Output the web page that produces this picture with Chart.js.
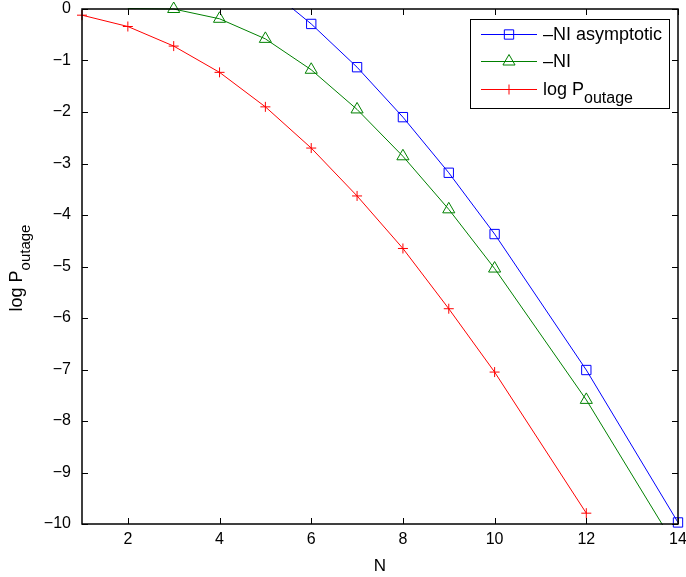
<!DOCTYPE html>
<html>
<head>
<meta charset="utf-8">
<script src="https://cdn.jsdelivr.net/npm/chart.js@4.4.0/dist/chart.umd.min.js"></script>
<style>
  html, body { margin: 0; padding: 0; background: #fff; }
  #wrap { width: 686px; height: 577px; }
</style>
</head>
<body>
<div id="wrap"><canvas id="chart"></canvas></div>
<script>
// values
const N_ASYMP = [5, 6, 7, 8, 9, 10, 12, 14]
const NI_ASYMP = [0.44, -0.29, -1.13, -2.10, -3.18, -4.37, -7.01, -9.97]
const N_NI = [2, 3, 4, 5, 6, 7, 8, 9, 10, 12, 14]
const NI = [0.01, 0, -0.19, -0.58, -1.18, -1.95, -2.86, -3.89, -5.04, -7.59, -10.51]
const N_OUTAGE = [1, 2, 3, 4, 5, 6, 7, 8, 9, 10, 12]
const LOG_P_OUTAGE = [-0.12, -0.34, -0.72, -1.23, -1.90, -2.70, -3.63, -4.65, -5.82, -7.05, -9.79]

const X_TICKS = [2, 4, 6, 8, 10, 12, 14]
const Y_TICKS = [0, -1, -2, -3, -4, -5, -6, -7, -8, -9, -10]
const SERIES_LABELS = ['\u2013NI asymptotic', '\u2013NI', 'log P']
const SERIES_SUBSCRIPTS = ['', '', 'outage']
const X_TITLE = 'N'
const Y_TITLE = 'log P'
const Y_TITLE_SUB = 'outage'

const FONT = "'Liberation Sans', Arial, Helvetica, sans-serif"
const minus = v => (v < 0 ? '\u2212' + Math.abs(v) : String(v))
const pts = (xs, ys) => xs.map((x, i) => ({ x: x, y: ys[i] }))
// markers outside the axes (above 0) are not drawn, like matlab
const radiusFor = r => ctx => (ctx.raw && ctx.raw.y > 0.001 ? 0 : r)

function drawMarker(ctx, style, x, y, r, color) {
    ctx.save()
    ctx.strokeStyle = color
    ctx.lineWidth = 1
    ctx.beginPath()
    if (style === 'rect') {
        const s = r * Math.SQRT1_2
        ctx.rect(x - s, y - s, 2 * s, 2 * s)
    } else if (style === 'triangle') {
        ctx.moveTo(x, y - r)
        ctx.lineTo(x + r * 0.866, y + r * 0.5)
        ctx.lineTo(x - r * 0.866, y + r * 0.5)
        ctx.closePath()
    } else {
        ctx.moveTo(x - r, y); ctx.lineTo(x + r, y)
        ctx.moveTo(x, y - r); ctx.lineTo(x, y + r)
    }
    ctx.stroke()
    ctx.restore()
}

function textWithSub(ctx, main, sub, x, y, size, subSize, drop) {
    ctx.font = size + 'px ' + FONT
    ctx.fillText(main, x, y)
    if (!sub) return
    const w = ctx.measureText(main).width
    ctx.font = subSize + 'px ' + FONT
    ctx.fillText(sub, x + w, y + drop)
}

const axesFrame = {
    id: 'axesFrame',
    afterDraw(chart) {
        const { ctx, chartArea: a, scales } = chart
        const xs = scales.x, ys = scales.y
        ctx.save()
        ctx.strokeStyle = '#000'

        // inward ticks on all four sides
        ctx.lineWidth = 1
        ctx.beginPath()
        X_TICKS.forEach(v => {
            const px = Math.round(xs.getPixelForValue(v)) + 0.5
            ctx.moveTo(px, a.bottom); ctx.lineTo(px, a.bottom - 6)
            ctx.moveTo(px, a.top); ctx.lineTo(px, a.top + 6)
        })
        Y_TICKS.forEach(v => {
            const py = Math.round(ys.getPixelForValue(v)) + 0.5
            ctx.moveTo(a.left, py); ctx.lineTo(a.left + 6, py)
            ctx.moveTo(a.right, py); ctx.lineTo(a.right - 6, py)
        })
        ctx.stroke()

        ctx.lineWidth = 1.5
        ctx.strokeRect(a.left, a.top, a.right - a.left, a.bottom - a.top)

        // axis titles
        ctx.fillStyle = '#000'
        ctx.textBaseline = 'alphabetic'
        ctx.textAlign = 'left'
        ctx.font = '17px ' + FONT
        const nW = ctx.measureText(X_TITLE).width
        ctx.fillText(X_TITLE, (a.left + a.right) / 2 - nW / 2, 571)

        ctx.save()
        ctx.font = '18px ' + FONT
        const mW = ctx.measureText(Y_TITLE).width
        ctx.font = '15px ' + FONT
        const sW = ctx.measureText(Y_TITLE_SUB).width
        ctx.translate(22, 268)
        ctx.rotate(-Math.PI / 2)
        textWithSub(ctx, Y_TITLE, Y_TITLE_SUB, -(mW + sW) / 2, 0, 18, 15, 8)
        ctx.restore()

        // legend box
        const lx = 470, ly = 19, lw = 199, lh = 89
        ctx.fillStyle = '#fff'
        ctx.fillRect(lx, ly, lw, lh)
        ctx.lineWidth = 1
        ctx.strokeRect(lx + 0.5, ly + 0.5, lw, lh)
        const rows = [34, 61, 89]
        chart.data.datasets.forEach((ds, i) => {
            const yy = rows[i] + 0.5
            ctx.strokeStyle = ds.borderColor
            ctx.lineWidth = 1
            ctx.beginPath()
            ctx.moveTo(481, yy); ctx.lineTo(537, yy)
            ctx.stroke()
            drawMarker(ctx, ds.pointStyle, 509, yy, ds.legendRadius, ds.borderColor)
            ctx.fillStyle = '#000'
            textWithSub(ctx, SERIES_LABELS[i], SERIES_SUBSCRIPTS[i], 543, rows[i] + 6, 18, 16, 8)
        })
        ctx.restore()
    }
}

const ctx = document.getElementById('chart').getContext('2d')
new Chart(ctx, {
    type: 'line',
    data: {
        datasets: [
            {
                label: SERIES_LABELS[0],
                data: pts(N_ASYMP, NI_ASYMP),
                borderColor: '#0000ff',
                pointStyle: 'rect',
                radius: radiusFor(6.6),
                legendRadius: 6.6,
                clip: { left: 7, right: 7, top: 1, bottom: 5 }
            },
            {
                label: SERIES_LABELS[1],
                data: pts(N_NI, NI),
                borderColor: '#008000',
                pointStyle: 'triangle',
                radius: radiusFor(7),
                legendRadius: 7,
                clip: { left: 7, right: 7, top: 8, bottom: 1 }
            },
            {
                label: SERIES_LABELS[2] + SERIES_SUBSCRIPTS[2],
                data: pts(N_OUTAGE, LOG_P_OUTAGE),
                borderColor: '#ff0000',
                pointStyle: 'cross',
                radius: radiusFor(5),
                legendRadius: 5,
                clip: { left: 7, right: 7, top: 8, bottom: 5 }
            }
        ].map(ds => Object.assign(ds, {
            borderWidth: 1,
            pointBorderColor: ds.borderColor,
            pointBackgroundColor: 'rgba(0,0,0,0)',
            pointBorderWidth: 1,
            tension: 0,
            fill: false
        }))
    },
    options: {
        responsive: true,
        maintainAspectRatio: false,
        animation: false,
        events: [],
        layout: { padding: { top: 9, right: 8, left: 0, bottom: 0 } },
        plugins: {
            legend: { display: false },
            tooltip: { enabled: false }
        },
        scales: {
            x: {
                type: 'linear',
                min: 1,
                max: 14,
                grid: { display: false, drawTicks: false },
                border: { display: false },
                afterBuildTicks: scale => { scale.ticks = X_TICKS.map(v => ({ value: v })) },
                afterFit: scale => {
                    scale.height = 53
                    scale.paddingLeft = 0
                    scale.paddingRight = 0
                },
                ticks: {
                    color: '#000',
                    padding: 6,
                    maxRotation: 0,
                    autoSkip: false,
                    font: { family: FONT, size: 16 }
                }
            },
            y: {
                type: 'linear',
                min: -10,
                max: 0,
                grid: { display: false, drawTicks: false },
                border: { display: false },
                afterBuildTicks: scale => { scale.ticks = Y_TICKS.map(v => ({ value: v })) },
                afterFit: scale => {
                    scale.width = 82
                    scale.paddingTop = 0
                    scale.paddingBottom = 0
                },
                ticks: {
                    color: '#000',
                    padding: 11,
                    autoSkip: false,
                    font: { family: FONT, size: 16 },
                    callback: v => minus(v)
                }
            }
        }
    },
    plugins: [axesFrame]
})
</script>
</body>
</html>
